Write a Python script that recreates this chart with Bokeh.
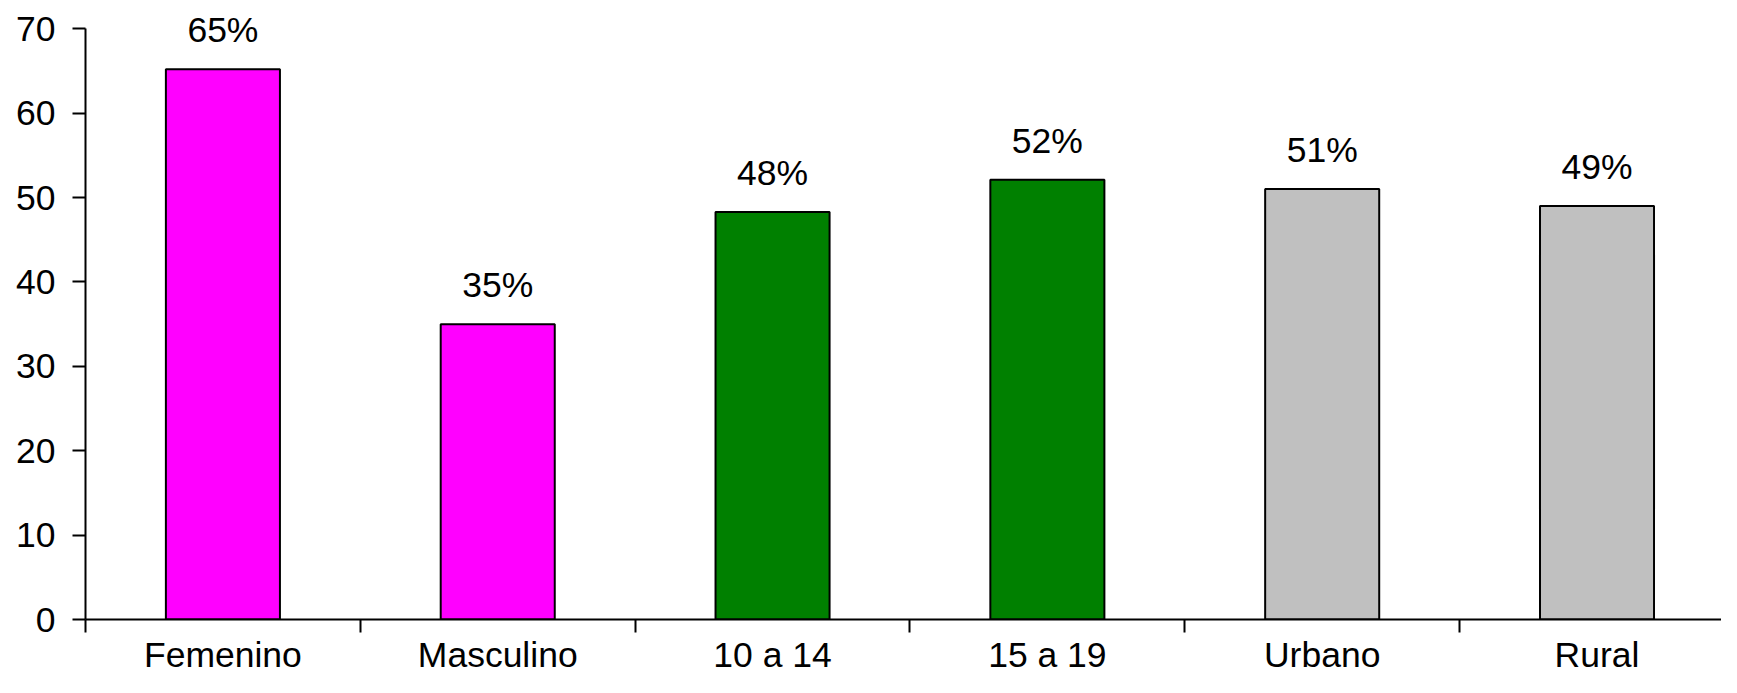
from bokeh.plotting import figure
from bokeh.models import ColumnDataSource, FixedTicker, Range1d
from bokeh.core.properties import value
from bokeh.embed import file_html
from bokeh.resources import INLINE

categories = ["Femenino", "Masculino", "10 a 14", "15 a 19", "Urbano", "Rural"]
values = [65.2, 35.0, 48.3, 52.1, 51.0, 49.0]
labels = ["65%", "35%", "48%", "52%", "51%", "49%"]
colors = ["#FF00FF", "#FF00FF", "#008000", "#008000", "#C0C0C0", "#C0C0C0"]
y_ticks = [0, 10, 20, 30, 40, 50, 60, 70]

FONT = "Liberation Sans"
FS = "35.5px"

centers = [i + 0.5 for i in range(len(categories))]
bounds_ticks = [i for i in range(len(categories))]

src = ColumnDataSource(dict(x=centers, top=values, label=labels, color=colors))

p = figure(width=1721, height=677, output_backend="svg", toolbar_location=None,
           x_range=Range1d(0, 5.953), y_range=Range1d(0, 73.35),
           min_border_left=85, min_border_right=0, min_border_top=0, min_border_bottom=0)
p.outline_line_color = None
p.grid.grid_line_color = None
p.background_fill_color = "white"
p.border_fill_color = "white"

p.vbar(x="x", top="top", bottom=0, width=0.415, source=src, fill_color="color",
       line_color="black", line_width=2)
p.text(x="x", y="top", text="label", source=src, text_align="center",
       text_baseline="alphabetic", y_offset=-39, text_font=value(FONT),
       text_font_size=FS, text_color="black")

# x axis: category names at bar centres, tick marks at category boundaries
xa = p.xaxis[0]
xa.axis_label = None
xa.ticker = FixedTicker(ticks=centers, minor_ticks=bounds_ticks)
xa.major_label_overrides = {c: n for c, n in zip(centers, categories)}
xa.major_tick_line_color = None
xa.major_tick_out = 0
xa.major_tick_in = 0
xa.minor_tick_out = 13
xa.minor_tick_in = 0
xa.minor_tick_line_color = "black"
xa.minor_tick_line_width = 2
xa.axis_line_color = "black"
xa.axis_line_width = 2
xa.major_label_standoff = 2
xa.major_label_text_font = FONT
xa.major_label_text_font_size = FS
xa.major_label_text_color = "black"

# y axis
ya = p.yaxis[0]
ya.axis_label = None
ya.ticker = FixedTicker(ticks=y_ticks)
ya.bounds = (0, 70)
ya.major_tick_out = 13
ya.major_tick_in = 0
ya.major_tick_line_width = 2
ya.major_tick_line_color = "black"
ya.minor_tick_line_color = None
ya.axis_line_color = "black"
ya.axis_line_width = 2
ya.major_label_standoff = 17
ya.major_label_text_font = FONT
ya.major_label_text_font_size = FS
ya.major_label_text_color = "black"

open("out.html", "w").write(file_html(p, INLINE))
